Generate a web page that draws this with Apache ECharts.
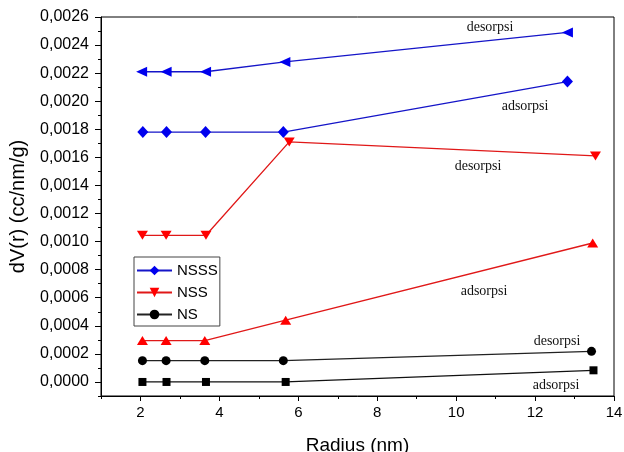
<!DOCTYPE html>
<html>
<head>
<meta charset="utf-8">
<script src="https://cdn.jsdelivr.net/npm/echarts@6/dist/echarts.min.js"></script>
<style>html,body{margin:0;padding:0;background:#fff}#c{width:624px;height:452px}</style>
</head>
<body>
<div id="c"></div>
<script>
// ---- data ----
const nsssDesX = [2.03, 2.65, 3.65, 5.66, 12.82];
const nsssDesY = [0.00221, 0.00221, 0.00221, 0.00228, 0.00249];
const nsssAdsX = [2.06, 2.66, 3.65, 5.62, 12.82];
const nsssAdsY = [0.00178, 0.00178, 0.00178, 0.00178, 0.00214];
const nssDesX = [2.05, 2.65, 3.66, 5.77, 13.53];
const nssDesY = [0.001045, 0.001045, 0.001045, 0.00171, 0.00161];
const nssAdsX = [2.05, 2.65, 3.63, 5.68, 13.46];
const nssAdsY = [0.000295, 0.000295, 0.000295, 0.00044, 0.00099];
const nsDesX = [2.05, 2.65, 3.63, 5.62, 13.43];
const nsDesY = [0.000152, 0.000152, 0.000152, 0.000152, 0.000218];
const nsAdsX = [2.05, 2.66, 3.66, 5.68, 13.48];
const nsAdsY = [0.0, 0.0, 0.0, 0.0, 0.000083];
const xMajor = [2, 4, 6, 8, 10, 12, 14];
const xMinor = [1, 3, 5, 7, 9, 11, 13];
const yMajor = [0, 0.0002, 0.0004, 0.0006, 0.0008, 0.0010, 0.0012, 0.0014, 0.0016, 0.0018, 0.0020, 0.0022, 0.0024, 0.0026];
const yMinor = [-0.0001, 0.0001, 0.0003, 0.0005, 0.0007, 0.0009, 0.0011, 0.0013, 0.0015, 0.0017, 0.0019, 0.0021, 0.0023, 0.0025];
const legendNames = ['NSSS', 'NSS', 'NS'];
const notes = ['desorpsi', 'adsorpsi', 'desorpsi', 'adsorpsi', 'desorpsi', 'adsorpsi'];

const zip = (xs, ys) => xs.map((x, i) => [x, ys[i]]);
const SANS = "'Liberation Sans', Arial, sans-serif";
const SERIF = "'Liberation Serif', 'Times New Roman', serif";
const BLUE = '#0000ee', BLUE_L = '#1515c8', RED = '#ff0000', RED_L = '#e01818', BLACK = '#000';
const downTri = 'path://M0,0 L10,0 L5,9 Z';
const leftTri = 'path://M0,5 L10,0 L10,10 Z';

function lineSeries(name, xs, ys, symbol, size, mColor, lColor) {
  return {
    name, type: 'line', data: zip(xs, ys), symbol, symbolSize: size,
    itemStyle: { color: mColor }, lineStyle: { color: lColor, width: 1.3 },
    emphasis: { disabled: true }, animation: false
  };
}

const chart = echarts.init(document.getElementById('c'));
const fmt = v => v.toFixed(4).replace('.', ',');
chart.setOption({
  animation: false,
  grid: { left: 101, right: 10, top: 17, bottom: 56, show: true, borderColor: '#000', borderWidth: 1,
          containLabel: false, outerBoundsMode: 'none' },
  legend: {
    data: legendNames, orient: 'vertical', left: 134, top: 257,
    itemWidth: 35, itemHeight: 12, itemGap: 7,
    padding: [6, 2, 4, 2], borderColor: '#444', borderWidth: 1, backgroundColor: '#fff',
    textStyle: { fontFamily: SANS, fontSize: 15, color: '#000' }
  },
  xAxis: [{
    type: 'value', min: 1, max: 14, name: 'Radius (nm)', nameLocation: 'middle', nameGap: 40,
    nameTextStyle: { fontFamily: SANS, fontSize: 19, color: '#000' },
    axisLine: { onZero: false, lineStyle: { color: '#000', width: 1 } },
    axisTick: { show: true, inside: false, length: 5, customValues: xMajor, lineStyle: { color: '#000' } },
    axisLabel: { customValues: xMajor, fontFamily: SANS, fontSize: 15, color: '#000', margin: 9 },
    splitLine: { show: false }
  }, {
    type: 'value', min: 1, max: 14, position: 'bottom', gridIndex: 0,
    axisLine: { show: false, onZero: false },
    axisTick: { show: true, length: 3, customValues: xMinor, lineStyle: { color: '#000' } },
    axisLabel: { show: false }, splitLine: { show: false }
  }],
  yAxis: [{
    type: 'value', min: -0.0001, max: 0.0026,
    name: 'dV(r) (cc/nm/g)', nameLocation: 'middle', nameGap: 73,
    nameTextStyle: { fontFamily: SANS, fontSize: 20, color: '#000' },
    axisLine: { show: true, onZero: false, lineStyle: { color: '#000', width: 1 } },
    axisTick: { show: true, length: 6, customValues: yMajor, lineStyle: { color: '#000' } },
    axisLabel: { customValues: yMajor, formatter: fmt, fontFamily: SANS, fontSize: 16, color: '#000', margin: 12 },
    splitLine: { show: false }
  }, {
    type: 'value', min: -0.0001, max: 0.0026, position: 'left', gridIndex: 0,
    axisLine: { show: false, onZero: false },
    axisTick: { show: true, length: 3, customValues: yMinor, lineStyle: { color: '#000' } },
    axisLabel: { show: false }, splitLine: { show: false }
  }],
  series: [
    lineSeries('NSSS desorpsi', nsssDesX, nsssDesY, leftTri, [11, 10], BLUE, BLUE_L),
    lineSeries('NSSS', nsssAdsX, nsssAdsY, 'diamond', [11, 12], BLUE, BLUE_L),
    lineSeries('NSS', nssDesX, nssDesY, downTri, [11, 9], RED, RED_L),
    lineSeries('NSS adsorpsi', nssAdsX, nssAdsY, 'triangle', [11, 9], RED, RED_L),
    lineSeries('NS', nsDesX, nsDesY, 'circle', 9, BLACK, '#222'),
    lineSeries('NS adsorpsi', nsAdsX, nsAdsY, 'rect', 8, BLACK, '#111')
  ],
  graphic: [
    [490, 27], [525, 106], [478, 166], [484, 291], [557, 341], [556, 385]
  ].map((p, i) => ({
    type: 'text', x: p[0], y: p[1], z: 100,
    style: { text: notes[i], fill: '#111', font: '14px ' + SERIF, align: 'center', verticalAlign: 'middle' }
  }))
});
</script>
</body>
</html>
